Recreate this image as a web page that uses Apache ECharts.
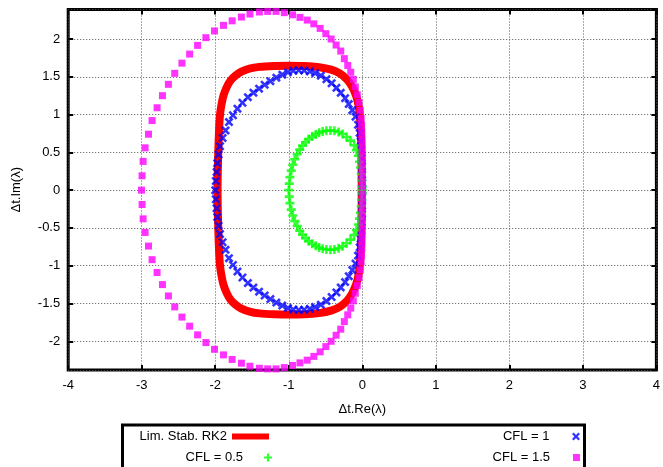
<!DOCTYPE html>
<html>
<head>
<meta charset="utf-8">
<script src="https://cdn.jsdelivr.net/npm/echarts@6/dist/echarts.min.js"></script>
<style>
html,body{margin:0;padding:0;background:#fff;}
#main{width:663px;height:467px;}
</style>
</head>
<body>
<div id="main"></div>
<script>
// RK2 stability limit (closed loop)
var rk2Limit = [
  [-1.969,0],[-1.965,0.271],[-1.958,0.536],[-1.948,0.80],[-1.935,0.999],[-1.915,1.131],[-1.888,1.25],
  [-1.847,1.356],[-1.793,1.448],[-1.725,1.515],[-1.644,1.567],[-1.535,1.607],[-1.40,1.631],[-1.197,1.643],
  [-0.993,1.647],[-0.79,1.644],[-0.587,1.627],[-0.424,1.594],[-0.302,1.541],[-0.207,1.462],[-0.14,1.369],
  [-0.085,1.25],[-0.051,1.118],[-0.031,0.959],[-0.018,0.734],[-0.011,0.403],[-0.008,0],
  [-0.011,-0.403],[-0.018,-0.734],[-0.031,-0.959],[-0.051,-1.118],[-0.085,-1.25],[-0.14,-1.369],
  [-0.207,-1.462],[-0.302,-1.541],[-0.424,-1.594],[-0.587,-1.627],[-0.79,-1.644],[-0.993,-1.647],
  [-1.197,-1.643],[-1.40,-1.631],[-1.535,-1.607],[-1.644,-1.567],[-1.725,-1.515],[-1.793,-1.448],
  [-1.847,-1.356],[-1.888,-1.25],[-1.915,-1.131],[-1.935,-0.999],[-1.948,-0.80],[-1.958,-0.536],
  [-1.965,-0.271],[-1.969,0]
];

// CFL = 1
var cfl1 = [
  [-2.0,0],
  [-1.992,0.12],[-1.982,0.24],[-1.973,0.357],[-1.955,0.47],[-1.935,0.58],[-1.90,0.69],[-1.86,0.79],
  [-1.813,0.90],[-1.759,0.99],[-1.698,1.078],[-1.63,1.157],[-1.556,1.23],[-1.481,1.29],[-1.404,1.343],
  [-1.328,1.395],[-1.25,1.442],[-1.169,1.488],[-1.088,1.528],[-1.011,1.561],[-0.939,1.58],[-0.864,1.587],
  [-0.79,1.583],[-0.713,1.571],[-0.641,1.548],[-0.564,1.515],[-0.488,1.468],[-0.417,1.415],[-0.352,1.353],
  [-0.293,1.287],[-0.234,1.217],[-0.184,1.138],[-0.136,1.058],[-0.092,0.972],[-0.058,0.866],[-0.035,0.757],
  [-0.022,0.645],[-0.014,0.536],[-0.008,0.426],[-0.004,0.315],[-0.002,0.205],[-0.001,0.095],
  [0,0],
  [-1.992,-0.12],[-1.982,-0.24],[-1.973,-0.357],[-1.955,-0.47],[-1.935,-0.58],[-1.90,-0.69],[-1.86,-0.79],
  [-1.813,-0.90],[-1.759,-0.99],[-1.698,-1.078],[-1.63,-1.157],[-1.556,-1.23],[-1.481,-1.29],[-1.404,-1.343],
  [-1.328,-1.395],[-1.25,-1.442],[-1.169,-1.488],[-1.088,-1.528],[-1.011,-1.561],[-0.939,-1.58],[-0.864,-1.587],
  [-0.79,-1.583],[-0.713,-1.571],[-0.641,-1.548],[-0.564,-1.515],[-0.488,-1.468],[-0.417,-1.415],[-0.352,-1.353],
  [-0.293,-1.287],[-0.234,-1.217],[-0.184,-1.138],[-0.136,-1.058],[-0.092,-0.972],[-0.058,-0.866],[-0.035,-0.757],
  [-0.022,-0.645],[-0.014,-0.536],[-0.008,-0.426],[-0.004,-0.315],[-0.002,-0.205],[-0.001,-0.095]
];

// CFL = 0.5
var cfl05 = [
  [-1.0,0],
  [-0.993,0.086],[-0.984,0.172],[-0.966,0.258],[-0.946,0.337],[-0.919,0.41],[-0.885,0.476],[-0.851,0.536],
  [-0.813,0.589],[-0.772,0.635],[-0.729,0.675],[-0.682,0.708],[-0.634,0.737],[-0.587,0.758],[-0.539,0.775],
  [-0.488,0.786],[-0.434,0.79],[-0.379,0.787],[-0.322,0.77],[-0.268,0.743],[-0.214,0.704],[-0.16,0.655],
  [-0.112,0.595],[-0.079,0.529],[-0.054,0.456],[-0.038,0.377],[-0.024,0.298],[-0.014,0.212],[-0.007,0.126],
  [-0.003,0.046],
  [0,0],
  [-0.993,-0.086],[-0.984,-0.172],[-0.966,-0.258],[-0.946,-0.337],[-0.919,-0.41],[-0.885,-0.476],[-0.851,-0.536],
  [-0.813,-0.589],[-0.772,-0.635],[-0.729,-0.675],[-0.682,-0.708],[-0.634,-0.737],[-0.587,-0.758],[-0.539,-0.775],
  [-0.488,-0.786],[-0.434,-0.79],[-0.379,-0.787],[-0.322,-0.77],[-0.268,-0.743],[-0.214,-0.704],[-0.16,-0.655],
  [-0.112,-0.595],[-0.079,-0.529],[-0.054,-0.456],[-0.038,-0.377],[-0.024,-0.298],[-0.014,-0.212],[-0.007,-0.126],
  [-0.003,-0.046]
];

// CFL = 1.5
var cfl15 = [
  [-3.003,0],
  [-2.995,0.19],[-2.981,0.38],[-2.954,0.56],[-2.908,0.74],[-2.859,0.92],[-2.791,1.09],[-2.718,1.25],
  [-2.637,1.40],[-2.551,1.545],[-2.453,1.68],[-2.348,1.80],[-2.240,1.915],[-2.127,2.017],[-2.010,2.106],
  [-1.888,2.18],[-1.770,2.24],[-1.644,2.29],[-1.528,2.33],[-1.40,2.357],[-1.287,2.365],[-1.173,2.365],
  [-1.061,2.348],[-0.949,2.32],[-0.848,2.286],[-0.749,2.25],[-0.659,2.20],[-0.573,2.14],[-0.496,2.07],
  [-0.424,2.00],[-0.356,1.92],[-0.293,1.84],[-0.244,1.74],[-0.198,1.65],[-0.157,1.56],[-0.122,1.465],
  [-0.095,1.365],[-0.068,1.263],[-0.045,1.16],[-0.027,1.055],[-0.016,0.95],[-0.010,0.86],[-0.006,0.77],
  [-0.004,0.68],[-0.003,0.59],[-0.002,0.50],[-0.001,0.41],[-0.001,0.32],[0,0.23],[0,0.14],[0,0.05],
  [-2.995,-0.19],[-2.981,-0.38],[-2.954,-0.56],[-2.908,-0.74],[-2.859,-0.92],[-2.791,-1.09],[-2.718,-1.25],
  [-2.637,-1.40],[-2.551,-1.545],[-2.453,-1.68],[-2.348,-1.80],[-2.240,-1.915],[-2.127,-2.017],[-2.010,-2.106],
  [-1.888,-2.18],[-1.770,-2.24],[-1.644,-2.29],[-1.528,-2.33],[-1.40,-2.357],[-1.287,-2.365],[-1.173,-2.365],
  [-1.061,-2.348],[-0.949,-2.32],[-0.848,-2.286],[-0.749,-2.25],[-0.659,-2.20],[-0.573,-2.14],[-0.496,-2.07],
  [-0.424,-2.00],[-0.356,-1.92],[-0.293,-1.84],[-0.244,-1.74],[-0.198,-1.65],[-0.157,-1.56],[-0.122,-1.465],
  [-0.095,-1.365],[-0.068,-1.263],[-0.045,-1.16],[-0.027,-1.055],[-0.016,-0.95],[-0.010,-0.86],[-0.006,-0.77],
  [-0.004,-0.68],[-0.003,-0.59],[-0.002,-0.50],[-0.001,-0.41],[-0.001,-0.32],[0,-0.23],[0,-0.14],[0,-0.05]
];

var seriesNames = ['Lim. Stab. RK2', 'CFL = 1', 'CFL = 0.5', 'CFL = 1.5'];

var font = 'Liberation Sans, Arial, sans-serif';
var crossPath = 'path://M0,2L2,0L5,3L8,0L10,2L7,5L10,8L8,10L5,7L2,10L0,8L3,5Z';
var plusPath = 'path://M3.6,0H6.4V3.6H10V6.4H6.4V10H3.6V6.4H0V3.6H3.6Z';
var boxPath = 'path://M0,0H10V10H0Z';

var myChart = echarts.init(document.getElementById('main'));

function legendItem(name, right, top, icon, w, h) {
  return {
    data: [name], right: right, top: top, align: 'right', orient: 'horizontal',
    icon: icon, itemWidth: w, itemHeight: h, padding: 0, selectedMode: false,
    textStyle: {color: '#000', fontSize: 13, fontFamily: font}
  };
}

var tickStyle = {show: true, inside: true, length: 5, lineStyle: {color: '#000', width: 2}};
var gridLine = {show: true, lineStyle: {color: '#555', width: 1, type: [1, 2]}};
var noLine = {show: false, onZero: false};

var option = {
  animation: false,
  backgroundColor: '#fff',
  grid: {left: 68.2, right: 4.5, top: 9.5, bottom: 97, show: true, borderColor: '#000', borderWidth: 3},
  legend: [
    legendItem(seriesNames[0], 394, 430, 'rect', 37, 6),
    legendItem(seriesNames[1], 83, 430, crossPath, 43, 8),
    legendItem(seriesNames[2], 391, 451, plusPath, 40, 8),
    legendItem(seriesNames[3], 83, 451, boxPath, 43, 7)
  ],
  graphic: [{
    type: 'rect', left: 120, top: 422.5, silent: true,
    shape: {width: 462, height: 60},
    style: {fill: 'none', stroke: '#000', lineWidth: 3}
  }],
  xAxis: [{
    type: 'value', min: -4, max: 4, interval: 1, position: 'bottom',
    name: 'Δt.Re(λ)', nameLocation: 'middle', nameGap: 33,
    nameTextStyle: {color: '#000', fontSize: 13, fontFamily: font},
    axisLine: noLine, axisTick: tickStyle, splitLine: gridLine,
    axisLabel: {color: '#000', fontSize: 13, fontFamily: font, margin: 9}
  }, {
    type: 'value', min: -4, max: 4, interval: 1, position: 'top',
    axisLine: noLine, axisTick: tickStyle, splitLine: {show: false}, axisLabel: {show: false}
  }],
  yAxis: [{
    type: 'value', min: -2.38, max: 2.39, minInterval: 0.5, maxInterval: 0.5, splitNumber: 10,
    position: 'left',
    name: 'Δt.Im(λ)', nameLocation: 'middle', nameGap: 45, nameRotate: 90,
    nameTextStyle: {color: '#000', fontSize: 13, fontFamily: font},
    axisLine: noLine, axisTick: tickStyle, splitLine: gridLine,
    axisLabel: {color: '#000', fontSize: 13, fontFamily: font, margin: 8, showMinLabel: false, showMaxLabel: false}
  }, {
    type: 'value', min: -2.38, max: 2.39, minInterval: 0.5, maxInterval: 0.5, splitNumber: 10,
    position: 'right',
    axisLine: noLine, axisTick: tickStyle, splitLine: {show: false}, axisLabel: {show: false}
  }],
  series: [{
    name: seriesNames[0], type: 'line', data: rk2Limit, smooth: 0.25,
    showSymbol: false, symbol: 'none', color: '#ff0000',
    lineStyle: {color: '#ff0000', width: 8}, z: 2
  }, {
    name: seriesNames[1], type: 'scatter', data: cfl1, symbol: crossPath, symbolSize: 9,
    itemStyle: {color: '#0000ff'}, z: 3
  }, {
    name: seriesNames[2], type: 'scatter', data: cfl05, symbol: plusPath, symbolSize: 9,
    itemStyle: {color: '#00ff00'}, z: 4
  }, {
    name: seriesNames[3], type: 'scatter', data: cfl15, symbol: boxPath, symbolSize: 7,
    itemStyle: {color: '#ff00ff'}, z: 5
  }]
};

myChart.setOption(option);
</script>
</body>
</html>
